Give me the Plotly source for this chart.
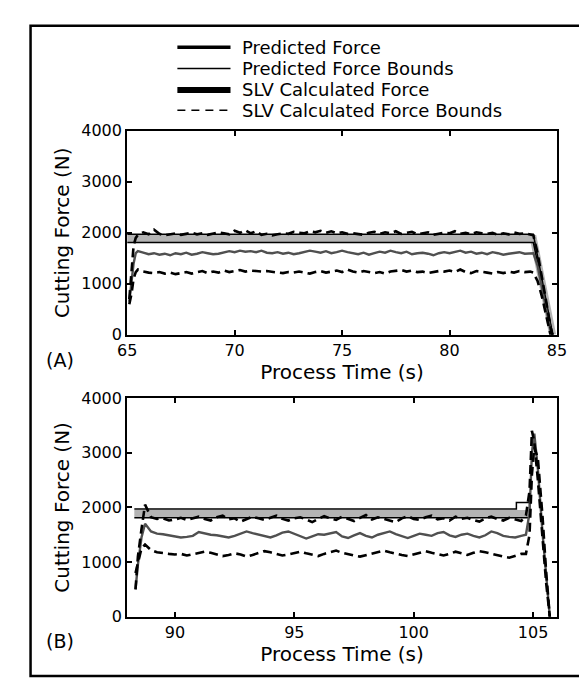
import plotly.graph_objects as go

# ---------------- data ----------------
# Panel A : 65-85 s
A_PRED_T = [65.0, 83.9, 84.8]
A_PRED_FORCE = [1890, 1890, 0]
A_PRED_UPPER = [1970, 1970, 0]
A_PRED_LOWER = [1810, 1810, 0]

A_START_T = [65.1, 65.2, 65.3, 65.4]
A_STEADY_T0, A_STEP = 65.5, 0.25
A_END_T = [83.9, 84.1, 84.3, 84.5, 84.7, 84.8]

A_UPPER_START = [700, 1300, 1750, 1900]
A_MID_START = [650, 1000, 1400, 1600]
A_LOW_START = [600, 800, 1100, 1230]

A_UPPER = [1960, 2010, 1970, 2060, 1980, 1950, 1970, 1990, 1960, 1980,
           2000, 1970, 1990, 1960, 1980, 2010, 1990, 1970, 2040, 2000,
           2050, 1990, 2030, 1960, 1980, 1950, 1970, 1990, 1980, 2020,
           2000, 1990, 2030, 2010, 2040, 2000, 2030, 1990, 2010, 1980,
           1990, 1970, 1960, 2000, 2020, 1980, 2010, 1990, 2030, 1980,
           2000, 2020, 1970, 1990, 2010, 1960, 1980, 2000, 1990, 2030,
           1980, 2000, 1970, 2010, 1990, 1980, 2000, 1960, 1990, 1970,
           2010, 1980, 1990, 1960]
A_MID = [1640, 1610, 1580, 1600, 1570, 1590, 1560, 1600, 1580, 1610,
         1570, 1590, 1620, 1600, 1580, 1590, 1610, 1640, 1620, 1650,
         1630, 1640, 1620, 1650, 1610, 1600, 1620, 1590, 1610, 1580,
         1600, 1620, 1650, 1630, 1610, 1640, 1600, 1620, 1650, 1620,
         1600, 1580, 1610, 1570, 1600, 1630, 1610, 1650, 1620, 1600,
         1630, 1580, 1600, 1610, 1590, 1560, 1600, 1620, 1600, 1630,
         1650, 1610, 1630, 1590, 1610, 1580, 1620, 1600, 1570, 1590,
         1610, 1620, 1590, 1600]
A_LOW = [1280, 1240, 1220, 1210, 1230, 1200, 1220, 1190, 1210, 1230,
         1200, 1220, 1250, 1210, 1240, 1220, 1260, 1230, 1250, 1270,
         1240, 1260, 1250, 1240, 1250, 1230, 1220, 1210, 1230, 1220,
         1240, 1220, 1200, 1230, 1250, 1220, 1240, 1260, 1230, 1280,
         1240, 1220, 1250, 1230, 1210, 1230, 1200, 1240, 1250, 1270,
         1240, 1260, 1230, 1240, 1210, 1230, 1250, 1240, 1260, 1230,
         1280, 1230, 1210, 1250, 1240, 1220, 1200, 1230, 1210, 1240,
         1220, 1250, 1230, 1240]

A_UPPER_END = [1950, 1600, 1150, 650, 150, 0]
A_MID_END = [1600, 1350, 950, 500, 80, 0]
A_LOW_END = [1220, 1050, 750, 350, 0, 0]

# Panel B : 88-106 s
B_PRED_T = [88.3, 104.3, 104.3, 104.85, 104.85]
B_PRED_FORCE = [1890, 1890, 1890, 1890, 1890]
B_PRED_UPPER = [1970, 1970, 2090, 2090, 1900]
B_PRED_LOWER = [1810, 1810, 1810, 1810, 1810]

B_START_T = [88.35, 88.45, 88.6, 88.75]
B_STEADY_T0, B_STEP = 89.0, 0.25
B_END_T = [104.7, 104.85, 104.95, 105.05, 105.2, 105.4, 105.55, 105.7]

B_UPPER_START = [500, 1100, 1600, 2050]
B_MID_START = [500, 950, 1450, 1700]
B_LOW_START = [800, 1000, 1250, 1320]

B_UPPER = [1820, 1790, 1800, 1760, 1780, 1810, 1770, 1800, 1830, 1790,
           1760, 1820, 1850, 1780, 1800, 1740, 1790, 1830, 1800, 1770,
           1810, 1850, 1790, 1760, 1800, 1820, 1780, 1730, 1790, 1840,
           1800, 1770, 1830, 1790, 1750, 1810, 1860, 1780, 1820, 1790,
           1760, 1730, 1800, 1840, 1790, 1770, 1820, 1850, 1780, 1800,
           1760, 1830, 1790, 1810, 1770, 1740, 1800, 1830, 1790, 1760,
           1810, 1780, 1750]
B_MID = [1560, 1520, 1510, 1490, 1470, 1450, 1460, 1480, 1550, 1520,
         1500, 1490, 1470, 1450, 1480, 1520, 1560, 1530, 1500, 1470,
         1450, 1490, 1540, 1560, 1520, 1480, 1430, 1470, 1510, 1500,
         1530, 1550, 1470, 1440, 1490, 1530, 1480, 1450, 1500, 1530,
         1560, 1510, 1470, 1440, 1480, 1520, 1500, 1480, 1530, 1550,
         1490, 1460, 1500, 1520, 1480, 1450, 1490, 1560, 1530, 1480,
         1460, 1450, 1480]
B_LOW = [1220, 1180, 1160, 1150, 1140, 1150, 1120, 1140, 1160, 1190,
         1170, 1140, 1110, 1130, 1160, 1140, 1100, 1130, 1170, 1200,
         1180, 1150, 1120, 1140, 1170, 1190, 1160, 1130, 1110, 1150,
         1180, 1210, 1170, 1140, 1120, 1100, 1130, 1160, 1190, 1210,
         1180, 1150, 1130, 1110, 1140, 1180, 1200, 1170, 1140, 1120,
         1150, 1190, 1160, 1130, 1170, 1200, 1180, 1150, 1120, 1100,
         1080, 1110, 1150]

B_UPPER_END = [1850, 2300, 3400, 3200, 2500, 1400, 600, 0]
B_MID_END = [1500, 1900, 3000, 3350, 2700, 1500, 700, 0]
B_LOW_END = [1150, 1500, 2600, 3100, 2900, 1800, 800, 0]

X_TICKS_A = [65, 70, 75, 80, 85]
X_TICKS_B = [90, 95, 100, 105]
Y_TICKS = [0, 1000, 2000, 3000, 4000]

LEGEND_LABELS = ["Predicted Force", "Predicted Force Bounds",
                 "SLV Calculated Force", "SLV Calculated Force Bounds"]
PANEL_LABELS = ["(A)", "(B)"]
X_TITLE = "Process Time (s)"
Y_TITLE = "Cutting Force (N)"

# ---------------- figure ----------------
W, H = 587, 680
FONT = "DejaVu Sans"


def series(start_t, t0, step, end_t, start_v, steady_v, end_v):
    t = list(start_t) + [round(t0 + step * i, 3) for i in range(len(steady_v))] + list(end_t)
    v = list(start_v) + list(steady_v) + list(end_v)
    return t, v


fig = go.Figure()

pred_band = dict(color="#b4b4b4", width=7)
pred_bound = dict(color="black", width=1.5)
slv_force = dict(color="#505050", width=2.4)
slv_bound = dict(color="black", width=2.6, dash="9px,5px")

panels = [
    ("x", "y", A_PRED_T, A_PRED_FORCE, A_PRED_UPPER, A_PRED_LOWER,
     A_START_T, A_STEADY_T0, A_STEP, A_END_T,
     (A_UPPER_START, A_UPPER, A_UPPER_END),
     (A_MID_START, A_MID, A_MID_END),
     (A_LOW_START, A_LOW, A_LOW_END)),
    ("x2", "y2", B_PRED_T, B_PRED_FORCE, B_PRED_UPPER, B_PRED_LOWER,
     B_START_T, B_STEADY_T0, B_STEP, B_END_T,
     (B_UPPER_START, B_UPPER, B_UPPER_END),
     (B_MID_START, B_MID, B_MID_END),
     (B_LOW_START, B_LOW, B_LOW_END)),
]

for (xa, ya, pt, pf, pu, pl, st, t0, stp, et, up, mid, low) in panels:
    fig.add_trace(go.Scatter(x=pt, y=pf, mode="lines", line=pred_band,
                             xaxis=xa, yaxis=ya, showlegend=False, name=LEGEND_LABELS[0]))
    for b in (pu, pl):
        fig.add_trace(go.Scatter(x=pt, y=b, mode="lines", line=pred_bound,
                                 xaxis=xa, yaxis=ya, showlegend=False, name=LEGEND_LABELS[1]))
    tx, vx = series(st, t0, stp, et, *mid)
    fig.add_trace(go.Scatter(x=tx, y=vx, mode="lines", line=slv_force,
                             xaxis=xa, yaxis=ya, showlegend=False, name=LEGEND_LABELS[2]))
    for s in (up, low):
        tx, vx = series(st, t0, stp, et, *s)
        fig.add_trace(go.Scatter(x=tx, y=vx, mode="lines", line=slv_bound,
                                 xaxis=xa, yaxis=ya, showlegend=False, name=LEGEND_LABELS[3]))

axis_common = dict(showline=True, linewidth=2, linecolor="black", mirror="ticks",
                   ticks="inside", ticklen=5, tickwidth=2, tickcolor="black",
                   showgrid=False, zeroline=False,
                   tickfont=dict(family=FONT, size=16, color="black"))
title_font = dict(family=FONT, size=20, color="black")

xdom = [113 / W, 558 / W]
fig.update_layout(
    width=W, height=H, margin=dict(l=0, r=0, t=0, b=0, pad=0),
    paper_bgcolor="white", plot_bgcolor="white", showlegend=False,
    xaxis=dict(domain=xdom, range=[65, 85], tickvals=X_TICKS_A, anchor="y",
               title=dict(text=X_TITLE, font=title_font, standoff=4), **axis_common),
    yaxis=dict(domain=[1 - 327 / H, 1 - 117 / H], range=[0, 4000], tickvals=Y_TICKS, anchor="x",
               title=dict(text=Y_TITLE, font=title_font, standoff=6), **axis_common),
    xaxis2=dict(domain=xdom, range=[88, 106], tickvals=X_TICKS_B, anchor="y2",
                title=dict(text=X_TITLE, font=title_font, standoff=4), **axis_common),
    yaxis2=dict(domain=[1 - 617 / H, 1 - 392 / H], range=[0, 4000], tickvals=Y_TICKS, anchor="x2",
                title=dict(text=Y_TITLE, font=title_font, standoff=6), **axis_common),
)

# outer frame
fig.add_shape(type="rect", xref="paper", yref="paper",
              x0=13 / W, x1=583 / W, y0=1 - 678 / H, y1=1 - 9 / H,
              line=dict(color="black", width=2.5), fillcolor="rgba(0,0,0,0)")

# manual legend (compact row spacing like the reference)
legend_styles = [
    dict(color="black", width=3.5),
    dict(color="black", width=1.5),
    dict(color="black", width=6),
    dict(color="black", width=1.5, dash="8px,6px"),
]
rows = [31, 53, 75, 96]
for lab, sty, ry in zip(LEGEND_LABELS, legend_styles, rows):
    fig.add_shape(type="line", xref="paper", yref="paper",
                  x0=165 / W, x1=220 / W, y0=1 - ry / H, y1=1 - ry / H, line=sty)
    fig.add_annotation(xref="paper", yref="paper", x=230 / W, y=1 - ry / H,
                       text=lab, showarrow=False, xanchor="left", yanchor="middle",
                       font=dict(family=FONT, size=18, color="black"))

for lab, py in zip(PANEL_LABELS, [353, 642]):
    fig.add_annotation(xref="paper", yref="paper", x=43 / W, y=1 - py / H,
                       text=lab, showarrow=False, xanchor="center", yanchor="middle",
                       font=dict(family=FONT, size=19, color="black"))

fig.write_html("out.html")
